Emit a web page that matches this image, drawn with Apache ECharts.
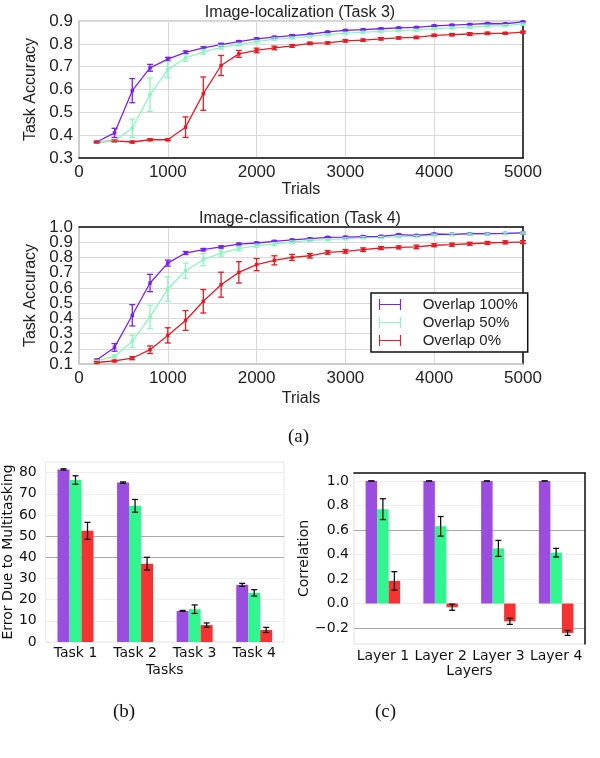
<!DOCTYPE html>
<html><head><meta charset="utf-8">
<script src="https://cdn.jsdelivr.net/npm/echarts@6/dist/echarts.min.js"></script>
<style>html,body{margin:0;padding:0;background:#fff}#c{width:600px;height:758px}</style>
</head><body><div id="c"></div>
<script>
// ---------- data ----------
const trials = [200,400,600,800,1000,1200,1400,1600,1800,2000,2200,2400,2600,2800,3000,3200,3400,3600,3800,4000,4200,4400,4600,4800,5000];
const seriesNames = ['Overlap 100%','Overlap 50%','Overlap 0%'];
// Image-localization (Task 3)
const loc100 = [0.37,0.41,0.595,0.695,0.733,0.763,0.782,0.797,0.81,0.822,0.829,0.836,0.842,0.852,0.859,0.862,0.866,0.870,0.872,0.879,0.882,0.885,0.889,0.888,0.896];
const loc50  = [0.37,0.375,0.43,0.577,0.687,0.738,0.765,0.785,0.797,0.81,0.821,0.826,0.833,0.84,0.847,0.851,0.855,0.858,0.860,0.867,0.870,0.873,0.878,0.880,0.887];
const loc0   = [0.37,0.375,0.37,0.38,0.38,0.435,0.582,0.705,0.756,0.771,0.782,0.791,0.802,0.804,0.813,0.816,0.822,0.826,0.828,0.837,0.840,0.843,0.846,0.846,0.851];
const locErr100 = [0.003,0.02,0.053,0.015,0.008,0.006,0.005,0.005,0.004,0.004,0.004,0.004,0.003,0.003,0.003,0.003,0.003,0.003,0.003,0.003,0.003,0.003,0.003,0.003,0.003];
const locErr50  = [0.003,0.005,0.04,0.073,0.035,0.015,0.01,0.008,0.006,0.005,0.005,0.004,0.004,0.004,0.004,0.004,0.004,0.004,0.004,0.004,0.004,0.004,0.004,0.004,0.004];
const locErr0   = [0.003,0.004,0.004,0.004,0.004,0.045,0.073,0.044,0.015,0.01,0.008,0.006,0.005,0.005,0.005,0.005,0.005,0.005,0.005,0.005,0.005,0.006,0.005,0.004,0.004];
// Image-classification (Task 4)
const cls100 = [0.126,0.209,0.42,0.632,0.763,0.829,0.851,0.869,0.888,0.895,0.906,0.915,0.923,0.932,0.934,0.937,0.939,0.950,0.945,0.954,0.952,0.956,0.956,0.958,0.961];
const cls50  = [0.12,0.15,0.249,0.409,0.593,0.713,0.785,0.829,0.858,0.877,0.888,0.901,0.912,0.917,0.923,0.930,0.932,0.937,0.939,0.947,0.950,0.954,0.954,0.958,0.961];
const cls0   = [0.11,0.12,0.138,0.194,0.288,0.386,0.512,0.621,0.702,0.753,0.781,0.800,0.811,0.833,0.840,0.851,0.862,0.866,0.869,0.880,0.884,0.890,0.895,0.899,0.901];
const clsErr100 = [0.005,0.025,0.07,0.057,0.02,0.01,0.008,0.007,0.006,0.006,0.005,0.005,0.005,0.005,0.005,0.005,0.005,0.005,0.005,0.005,0.005,0.005,0.005,0.005,0.005];
const clsErr50  = [0.005,0.01,0.04,0.077,0.08,0.05,0.04,0.02,0.015,0.01,0.01,0.008,0.006,0.006,0.006,0.006,0.006,0.006,0.006,0.006,0.006,0.006,0.006,0.006,0.006];
const clsErr0   = [0.005,0.005,0.01,0.025,0.05,0.065,0.077,0.082,0.07,0.04,0.03,0.02,0.015,0.012,0.012,0.012,0.01,0.01,0.012,0.01,0.01,0.01,0.01,0.01,0.01];
// (b) Error due to multitasking
const tasks = ['Task 1','Task 2','Task 3','Task 4'];
const err100 = [81.5,75.3,14.7,27.0];
const err50  = [76.5,64.3,15.5,23.2];
const err0   = [52.5,37.0,8.0,5.7];
const errSd100 = [0.3,0.3,0.2,0.7];
const errSd50  = [2.0,3.0,2.0,1.5];
const errSd0   = [4.0,3.0,1.0,1.2];
const errTicks = [0,10,20,30,40,50,60,70,80];
// (c) Correlation
const layers = ['Layer 1','Layer 2','Layer 3','Layer 4'];
const cor100 = [1.0,1.0,1.0,1.0];
const cor50  = [0.77,0.63,0.45,0.415];
const cor0   = [0.185,-0.03,-0.145,-0.24];
const corSd100 = [0,0,0,0];
const corSd50  = [0.085,0.08,0.065,0.035];
const corSd0   = [0.075,0.025,0.025,0.02];
const corTicks = [-0.2,0.0,0.2,0.4,0.6,0.8,1.0];
const locTicks = [0.3,0.4,0.5,0.6,0.7,0.8,0.9];
const clsTicks = [0.1,0.2,0.3,0.4,0.5,0.6,0.7,0.8,0.9,1.0];

// ---------- styles ----------
const lineColors = ['#7a22ec','#8ff5c0','#e01e28'];
const barColors  = ['#9b4de0','#33f590','#f53333'];
const sans = 'Liberation Sans';
const dv = 'DejaVu Sans';

function lineErr(xs, ys, es) { return xs.map((x,i)=>[x, ys[i]-es[i], ys[i]+es[i]]); }
function barErr(ys, es) { return ys.map((y,i)=>[i, y-es[i], y+es[i]]); }

function valueErrRender(color, cap) {
  return function(params, api) {
    const x = api.value(0), lo = api.value(1), hi = api.value(2);
    const a = api.coord([x, lo]), b = api.coord([x, hi]);
    const st = {stroke: color, lineWidth: 1.3};
    return {type:'group', children:[
      {type:'line', shape:{x1:a[0],y1:a[1],x2:b[0],y2:b[1]}, style:st},
      {type:'line', shape:{x1:a[0]-cap,y1:a[1],x2:a[0]+cap,y2:a[1]}, style:st},
      {type:'line', shape:{x1:b[0]-cap,y1:b[1],x2:b[0]+cap,y2:b[1]}, style:st}
    ]};
  };
}
function barErrRender(offset, cap) {
  return function(params, api) {
    const x = api.value(0), lo = api.value(1), hi = api.value(2);
    const a = api.coord([x, lo]), b = api.coord([x, hi]);
    const cx = a[0] + offset;
    const st = {stroke: '#111', lineWidth: 1.3};
    return {type:'group', children:[
      {type:'line', shape:{x1:cx,y1:a[1],x2:cx,y2:b[1]}, style:st},
      {type:'line', shape:{x1:cx-cap,y1:a[1],x2:cx+cap,y2:a[1]}, style:st},
      {type:'line', shape:{x1:cx-cap,y1:b[1],x2:cx+cap,y2:b[1]}, style:st}
    ]};
  };
}

const tickLbl = {color:'#222', fontFamily:sans, fontSize:17};
const lineGridSplit = {show:true, lineStyle:{color:'#d9d9d9', width:1}};

function lineXAxis(grid, axisColor) {
  return {type:'value', gridIndex:grid, min:0, max:5000, interval:1000,
    name:'Trials', nameLocation:'middle', nameGap: grid===0?24:27,
    nameTextStyle:{color:'#222', fontFamily:sans, fontSize:16},
    axisLine:{show:true, lineStyle:{color:axisColor, width:1.5}}, axisTick:{show:false},
    axisLabel:Object.assign({margin:6, formatter:v=>String(v)}, tickLbl), splitLine:lineGridSplit};
}
function lineYAxis(grid, min, max, ticks, axisColor) {
  return {type:'value', gridIndex:grid, min:min, max:max,
    name:'Task Accuracy', nameLocation:'middle', nameGap:31,
    nameTextStyle:{color:'#222', fontFamily:sans, fontSize:16},
    axisLine:{show:true, lineStyle:{color:axisColor, width:1.5}}, axisTick:{show:false, customValues:ticks},
    axisLabel:Object.assign({margin:6, customValues:ticks, hideOverlap:false, showMinLabel:true, showMaxLabel:true,
      formatter:v=>v.toFixed(1)}, tickLbl), splitLine:lineGridSplit};
}
function frameAxisX(grid, pos, color, extra) {
  return Object.assign({gridIndex:grid, position:pos, axisLine:{show:true, onZero:false, lineStyle:{color:color, width:1.5}},
    axisTick:{show:false}, axisLabel:{show:false}, splitLine:{show:false}}, extra);
}

// Task 4 tick labels are tightly packed: split them over two overlaid left axes
const clsTicksOdd  = clsTicks.filter((v,i)=>i%2===0);
const clsTicksEven = clsTicks.filter((v,i)=>i%2===1);
const clsAxisMain = lineYAxis(1, 0.1, 1.0, clsTicks, '#c8c8c8');
clsAxisMain.axisLabel.customValues = clsTicksOdd;
const clsAxisAlt = {type:'value', gridIndex:1, position:'left', offset:0, min:0.1, max:1.0,
  axisLine:{show:false}, axisTick:{show:false, customValues:clsTicksEven}, splitLine:{show:false},
  axisLabel:Object.assign({margin:6, customValues:clsTicksEven, showMinLabel:true, showMaxLabel:true,
    formatter:v=>v.toFixed(1)}, tickLbl)};

const legendIcon = 'path://M0,9h40v2h-40z M0,0h2v20h-2z M38,0h2v20h-2z';

const option = {
  animation:false,
  backgroundColor:'#fff',
  title:[
    {text:'Image-localization (Task 3)', left:'center', top:0, textStyle:{fontFamily:sans, fontSize:16, fontWeight:'normal', color:'#222'}},
    {text:'Image-classification (Task 4)', left:'center', top:206, textStyle:{fontFamily:sans, fontSize:16, fontWeight:'normal', color:'#222'}}
  ],
  legend:{
    left:371, top:293, orient:'vertical',
    data: seriesNames.map((n,i)=>({name:n, icon:legendIcon, itemStyle:{color:lineColors[i]}})),
    itemWidth:22, itemHeight:12, itemGap:3,
    padding:[4,10,4,8],
    borderColor:'#111', borderWidth:1.5, backgroundColor:'#fff',
    formatter: n => '    ' + n,
    textStyle:{fontFamily:sans, fontSize:15, color:'#222'}
  },
  grid:[
    {left:79, width:444, top:21, height:137, show:true, borderColor:'#c8c8c8', borderWidth:1.5},
    {left:79, width:444, top:227, height:137, show:true, borderColor:'#c8c8c8', borderWidth:1.5},
    {left:41, width:243, top:462, height:180, show:true, borderColor:'#e6e6e6', borderWidth:1},
    {left:354, width:231, top:473, height:171, show:true, borderColor:'#e0e0e0', borderWidth:1}
  ],
  xAxis:[
    lineXAxis(0, '#111'),
    lineXAxis(1, '#c8c8c8'),
    {type:'category', gridIndex:2, data:tasks, name:'Tasks', nameLocation:'middle', nameGap:21,
      nameTextStyle:{color:'#111', fontFamily:dv, fontSize:14},
      axisLine:{show:false}, axisTick:{show:false},
      axisLabel:{color:'#111', fontFamily:dv, fontSize:14, margin:4, interval:0, hideOverlap:false}},
    {type:'category', gridIndex:3, data:layers, name:'Layers', nameLocation:'middle', nameGap:19,
      nameTextStyle:{color:'#111', fontFamily:dv, fontSize:14},
      axisLine:{show:false}, axisTick:{show:false},
      axisLabel:{color:'#111', fontFamily:dv, fontSize:14, margin:5, interval:0, hideOverlap:false}},
    frameAxisX(1, 'top', '#111', {type:'value', min:0, max:5000}),
    frameAxisX(3, 'top', '#111', {type:'category', data:layers})
  ],
  yAxis:[
    lineYAxis(0, 0.3, 0.9, locTicks, '#c8c8c8'),
    clsAxisMain,
    {type:'value', gridIndex:2, min:0, max:85,
      name:'Error Due to Multitasking', nameLocation:'middle', nameGap:27,
      nameTextStyle:{color:'#111', fontFamily:dv, fontSize:14},
      axisLine:{show:false}, axisTick:{show:false, customValues:errTicks},
      axisLabel:{color:'#111', fontFamily:dv, fontSize:14, margin:9, customValues:errTicks},
      splitLine:{show:true, lineStyle:{color:['#eeeeee','#eeeeee','#eeeeee','#eeeeee','#aaaaaa','#aaaaaa','#eeeeee','#eeeeee','#eeeeee'], width:1.2}}},
    {type:'value', gridIndex:3, min:-0.33, max:1.065,
      name:'Correlation', nameLocation:'middle', nameGap:33,
      nameTextStyle:{color:'#111', fontFamily:dv, fontSize:14},
      axisLine:{show:false}, axisTick:{show:false, customValues:corTicks},
      axisLabel:{color:'#111', fontFamily:dv, fontSize:14, margin:5, customValues:corTicks,
        formatter: v => (v < -1e-9 ? '\u2212' : '') + Math.abs(v).toFixed(1)},
      splitLine:{show:true, lineStyle:{color:['#aaaaaa','#eeeeee','#eeeeee','#eeeeee','#aaaaaa','#eeeeee','#eeeeee'], width:1.2}}},
    frameAxisX(0, 'right', '#111', {type:'value', min:0.3, max:0.9}),
    frameAxisX(1, 'right', '#111', {type:'value', min:0.1, max:1.0}),
    frameAxisX(3, 'right', '#111', {type:'value', min:-0.33, max:1.065}),
    clsAxisAlt
  ],
  series:[]
};

const lineSets = [
  {grid:0, ys:[loc100,loc50,loc0], es:[locErr100,locErr50,locErr0]},
  {grid:1, ys:[cls100,cls50,cls0], es:[clsErr100,clsErr50,clsErr0]}
];
lineSets.forEach(set => {
  set.ys.forEach((ys, k) => {
    option.series.push({type:'line', name:seriesNames[k], xAxisIndex:set.grid, yAxisIndex:set.grid,
      data: trials.map((x,i)=>[x, ys[i]]), symbol:'rect', symbolSize:3.5, showSymbol:true,
      itemStyle:{color:lineColors[k]}, lineStyle:{color:lineColors[k], width:1.3}, z:3 + (2-k)});
  });
  set.ys.forEach((ys, k) => {
    option.series.push({type:'custom', name:seriesNames[k], xAxisIndex:set.grid, yAxisIndex:set.grid,
      data: lineErr(trials, ys, set.es[k]), renderItem: valueErrRender(lineColors[k], 3),
      itemStyle:{color:lineColors[k]}, z:6, encode:{x:0, y:[1,2]}});
  });
});

const barSets = [
  {ax:2, ys:[err100,err50,err0], es:[errSd100,errSd50,errSd0], w:12},
  {ax:3, ys:[cor100,cor50,cor0], es:[corSd100,corSd50,corSd0], w:11.5}
];
barSets.forEach(set => {
  set.ys.forEach((ys, k) => {
    option.series.push({type:'bar', name:seriesNames[k], xAxisIndex:set.ax, yAxisIndex:set.ax,
      data: ys, barWidth:set.w, barGap:'0%', itemStyle:{color:barColors[k]}, z:2});
  });
  set.ys.forEach((ys, k) => {
    option.series.push({type:'custom', name:seriesNames[k], xAxisIndex:set.ax, yAxisIndex:set.ax,
      data: barErr(ys, set.es[k]), renderItem: barErrRender((k-1)*set.w, 3),
      itemStyle:{color:'#111'}, z:5, encode:{x:0, y:[1,2]}});
  });
});

option.graphic = [
  {type:'text', left:288, top:428, style:{text:'(a)', fontFamily:'Liberation Serif', fontSize:19, fill:'#111'}},
  {type:'text', left:113, top:703, style:{text:'(b)', fontFamily:'Liberation Serif', fontSize:19, fill:'#111'}},
  {type:'text', left:375, top:703, style:{text:'(c)', fontFamily:'Liberation Serif', fontSize:19, fill:'#111'}}
];

const chart = echarts.init(document.getElementById('c'), null, {renderer:'canvas'});
chart.setOption(option);
</script></body></html>
